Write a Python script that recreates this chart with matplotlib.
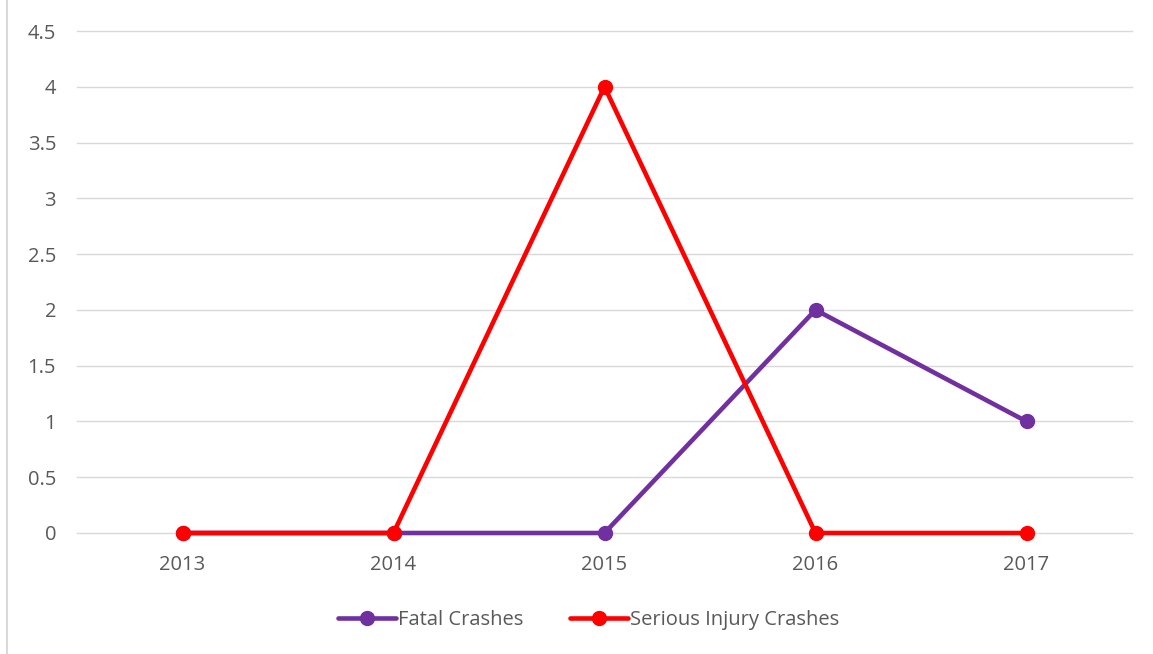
import matplotlib
matplotlib.use("Agg")
import matplotlib.pyplot as plt
from matplotlib.lines import Line2D

years = ["2013", "2014", "2015", "2016", "2017"]
fatal = [0, 0, 0, 2, 1]
serious = [0, 0, 4, 0, 0]
yticks = [0, 0.5, 1, 1.5, 2, 2.5, 3, 3.5, 4, 4.5]

PURPLE = "#7030A0"
RED = "#FF0000"
TXT = "#595959"

plt.rcParams["font.family"] = ["Open Sans", "DejaVu Sans"]

fig = plt.figure(figsize=(11.53, 6.54), dpi=100)
ax = fig.add_axes([77 / 1153, 1 - 533 / 654, (1132 - 77) / 1153, (533 - 31) / 654])

x = list(range(len(years)))
ax.plot(x, fatal, color=PURPLE, lw=3.3, marker="o", ms=10, label="Fatal Crashes",
        solid_capstyle="round", zorder=3, clip_on=False)
ax.plot(x, serious, color=RED, lw=3.3, marker="o", ms=10, label="Serious Injury Crashes",
        solid_capstyle="round", zorder=4, clip_on=False)

ax.set_xlim(-0.5, len(years) - 0.5)
ax.set_ylim(0, 4.5)
ax.set_yticks(yticks)
ax.set_yticklabels([f"{v:g}" for v in yticks])
ax.set_xticks(x)
ax.set_xticklabels(years)
ax.grid(axis="y", color="#D9D9D9", lw=1)
for gl in ax.get_ygridlines():
    gl.set_clip_on(False)
ax.set_axisbelow(True)
for s in ax.spines.values():
    s.set_visible(False)
ax.tick_params(length=0, labelsize=14.5, colors=TXT)
ax.tick_params(axis="y", pad=15)
ax.tick_params(axis="x", pad=16)
for lab in ax.get_xticklabels() + ax.get_yticklabels():
    lab.set_color(TXT)

ax.legend(loc="center", bbox_to_anchor=(0.485, -0.173), ncol=2, frameon=False,
          fontsize=14.5, labelcolor=TXT, handlelength=2.9, handletextpad=0.1,
          columnspacing=2.3)

fig.add_artist(Line2D([7 / 1153, 7 / 1153], [0, 1], color="#D9D9D9", lw=1.5,
                      transform=fig.transFigure))

fig.savefig("out.png", dpi=100)
